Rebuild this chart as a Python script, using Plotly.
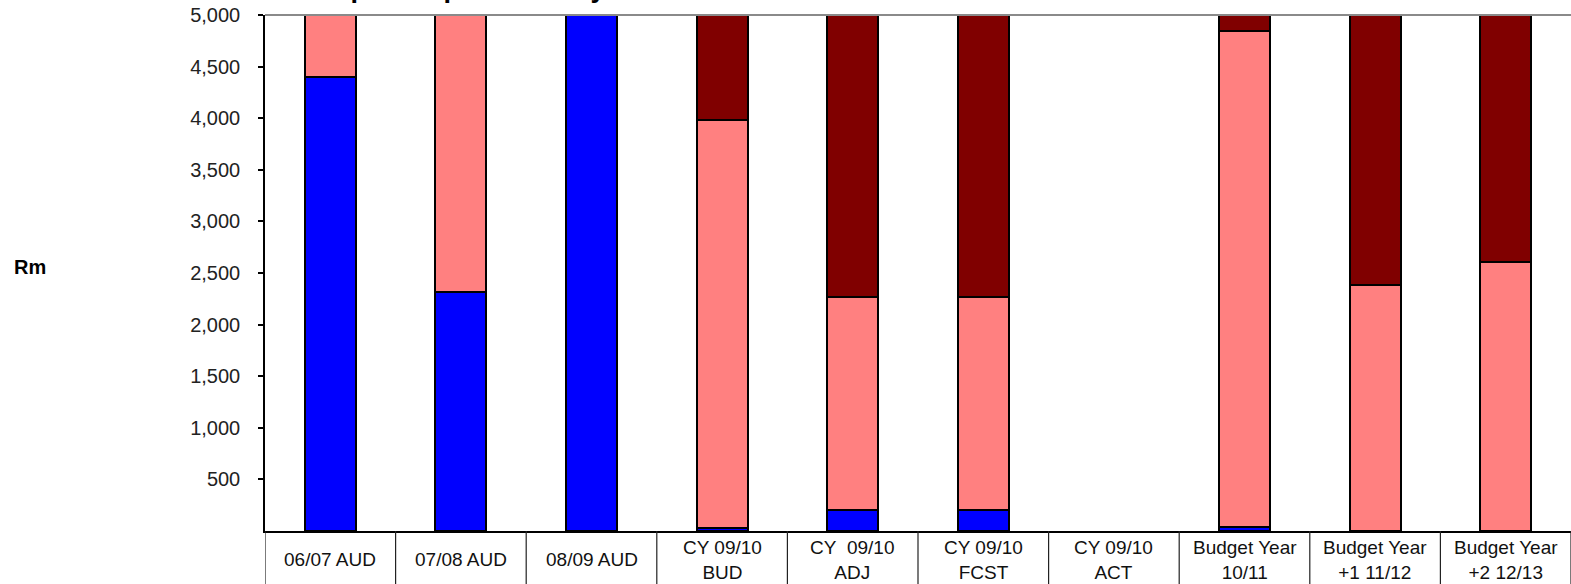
import plotly.graph_objects as go

# Categories shown along the x axis (line breaks as printed under each bar)
categories = [
    "06/07 AUD",
    "07/08 AUD",
    "08/09 AUD",
    "CY 09/10<br>BUD",
    "CY\u00a0 09/10<br>ADJ",
    "CY 09/10<br>FCST",
    "CY 09/10<br>ACT",
    "Budget Year<br>10/11",
    "Budget Year<br>+1 11/12",
    "Budget Year<br>+2 12/13",
]

# Stacked series, Rm (values above 5,000 run past the top of the axis)
audited = [4400, 2320, 5600, 25, 200, 200, None, 40, None, None]
appropriation = [1800, 3400, None, 3955, 2070, 2070, None, 4805, 2380, 2610]
additional = [None, None, None, 2300, 3100, 3100, None, 1400, 3200, 3000]

y_ticks = [500, 1000, 1500, 2000, 2500, 3000, 3500, 4000, 4500, 5000]

FONT = "Liberation Sans, Arial, sans-serif"
x_idx = list(range(len(categories)))

fig = go.Figure()
for name, vals, colour in [
    ("Audited", audited, "#0000FF"),
    ("Appropriation", appropriation, "#FF8080"),
    ("Additional", additional, "#800000"),
]:
    fig.add_trace(go.Bar(
        x=x_idx, y=vals, name=name, width=0.39,
        marker=dict(color=colour, line=dict(color="black", width=2)),
        showlegend=False,
    ))

# category labels, vertically centred in each cell below the axis
for i, label in enumerate(categories):
    fig.add_annotation(
        x=i, xref="x", y=-0.056, yref="paper", text=label,
        showarrow=False, xanchor="center", yanchor="middle",
        font=dict(family=FONT, size=19, color="#111"),
    )

# cell dividers running down from the category axis
for i in range(len(categories) + 1):
    fig.add_shape(
        type="line", xref="x", yref="paper",
        x0=i - 0.5, x1=i - 0.5, y0=0, y1=-0.2,
        line=dict(color="#222", width=1.2),
    )

# grey border along the top of the plot area
fig.add_shape(
    type="line", xref="paper", yref="paper", x0=0, x1=1, y0=1, y1=1,
    line=dict(color="#8a8a8a", width=2),
)

fig.add_annotation(
    x=-0.18, xref="paper", y=0.512, yref="paper", text="<b>Rm</b>",
    showarrow=False, xanchor="center", yanchor="middle",
    font=dict(family=FONT, size=20, color="black"),
)

fig.add_annotation(
    x=(314 - 265) / 1306, xref="paper", y=1.02, yref="paper",
    text="<b>Capital expenditure by vote</b>",
    showarrow=False, xanchor="left", yanchor="bottom",
    font=dict(family=FONT, size=27, color="black"),
)

fig.update_layout(
    width=1571, height=584,
    margin=dict(l=265, r=0, t=15, b=53),
    paper_bgcolor="white", plot_bgcolor="white",
    barmode="stack", bargap=0.6,
    xaxis=dict(
        range=[-0.5, len(categories) - 0.5],
        tickvals=x_idx, showticklabels=False, ticks="",
        showgrid=False, zeroline=False,
        showline=True, linecolor="black", linewidth=2,
    ),
    yaxis=dict(
        range=[0, 5000], tickvals=y_ticks,
        tickformat=",d", ticks="outside", ticklen=5, tickwidth=1.5,
        tickcolor="black", ticklabelstandoff=14,
        showgrid=False, zeroline=False,
        showline=True, linecolor="black", linewidth=1.5,
        tickfont=dict(family=FONT, size=20, color="#222"),
    ),
)

fig.write_html("out.html")
